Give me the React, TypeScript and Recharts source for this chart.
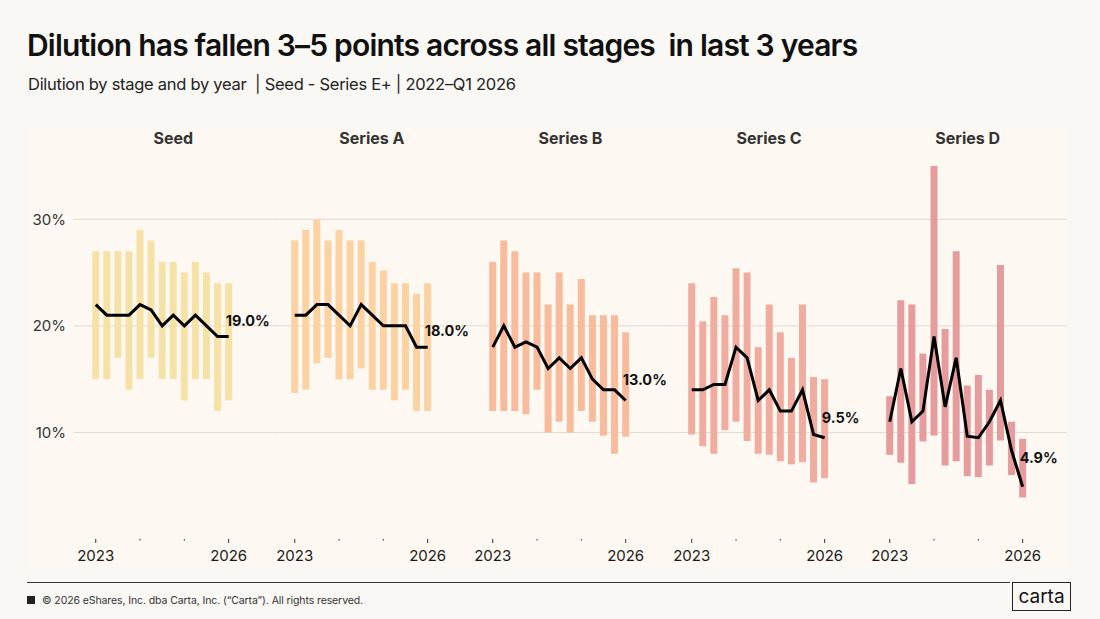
import { ComposedChart, Bar, Line, XAxis, YAxis, CartesianGrid, LabelList } from 'recharts';

const quarters = [
  '2023 Q1', '2023 Q2', '2023 Q3', '2023 Q4',
  '2024 Q1', '2024 Q2', '2024 Q3', '2024 Q4',
  '2025 Q1', '2025 Q2', '2025 Q3', '2025 Q4',
  '2026 Q1',
];
const yearLabels: Record<string, string> = { '2023 Q1': '2023', '2026 Q1': '2026' };
const yTicks = [10, 20, 30];

const stages = ['Seed', 'Series A', 'Series B', 'Series C', 'Series D'];

// dilution ranges (low / high) and medians per quarter, in %
const seedHigh = [27, 27, 27, 27, 29, 28, 26, 26, 25, 26, 25, 24, 24];
const seedLow = [15, 15, 17, 14, 15, 17, 15, 15, 13, 15, 15, 12, 13];
const seedMedian = [22, 21, 21, 21, 22, 21.5, 20, 21, 20, 21, 20, 19, 19];

const seriesAHigh = [28, 29, 30, 28, 29, 28, 28, 26, 25.2, 24, 24, 23, 24];
const seriesALow = [13.7, 14, 16.5, 17, 15, 15, 16, 14, 14, 13, 14, 12, 12];
const seriesAMedian = [21, 21, 22, 22, 21, 20, 22, 21, 20, 20, 20, 18, 18];

const seriesBHigh = [26, 28, 27, 25, 25, 22, 25, 22, 24.4, 21, 21, 21, 19.4];
const seriesBLow = [12, 12, 12, 11.7, 14, 10, 11, 10, 12, 11, 9.7, 8, 9.6];
const seriesBMedian = [18, 20, 18, 18.5, 18, 16, 17, 16, 17, 15, 14, 14, 13];

const seriesCHigh = [24, 20.4, 22.7, 21, 25.4, 25, 18, 22, 19.4, 17, 22, 15.2, 15];
const seriesCLow = [9.8, 8.7, 8, 10.2, 11, 9.2, 8, 7.9, 7.3, 7, 7.2, 5.3, 5.7];
const seriesCMedian = [14, 14, 14.5, 14.5, 18, 17, 13, 14, 12, 12, 14, 9.8, 9.5];

const seriesDHigh = [13.4, 22.4, 22, 17.4, 35, 19.7, 27, 14.4, 15.4, 14, 25.7, 11, 9.4];
const seriesDLow = [7.9, 7.15, 5.15, 9.15, 9.7, 6.9, 7.3, 5.9, 5.8, 6.9, 9.25, 6, 3.9];
const seriesDMedian = [11, 16, 11, 12, 19, 12.4, 17, 9.65, 9.5, 11, 13, 8.3, 4.9];

const panels = [
  { name: stages[0], high: seedHigh, low: seedLow, median: seedMedian, color: '#f6e2a7', lift: 16 },
  { name: stages[1], high: seriesAHigh, low: seriesALow, median: seriesAMedian, color: '#fcd2a2', lift: 17 },
  { name: stages[2], high: seriesBHigh, low: seriesBLow, median: seriesBMedian, color: '#f8bb9b', lift: 21 },
  { name: stages[3], high: seriesCHigh, low: seriesCLow, median: seriesCMedian, color: '#f0ac9f', lift: 20 },
  { name: stages[4], high: seriesDHigh, low: seriesDLow, median: seriesDMedian, color: '#e69c9d', lift: 29 },
];

const FONT = 'Inter, "Noto Sans", sans-serif';
const PLOT_LEFT = 74;
const PANEL_W = 198.6;
const CHART_TOP = 156;
const CHART_H = 420;
const Y_DOMAIN: [number, number] = [0, 35];

function QuarterTick(props: any) {
  const { x, y, payload } = props;
  const label = yearLabels[payload.value];
  const isYear = payload.value.endsWith('Q1');
  if (!isYear) return null;
  return (
    <g>
      <line x1={x} x2={x} y1={y} y2={y + (label ? 4 : 1.5)} stroke="#333" strokeWidth={1} />
      {label && (
        <text x={x} y={y + 17} textAnchor="middle" dominantBaseline="central" fontSize={15} fill="#1a1a1a" fontFamily={FONT}>
          {label}
        </text>
      )}
    </g>
  );
}

function Panel({ panel, index }: { panel: typeof panels[number]; index: number }) {
  const data = quarters.map((q, i) => ({
    quarter: q,
    range: [panel.low[i], panel.high[i]],
    median: panel.median[i],
  }));
  const last = data.length - 1;
  const first = index === 0;

  const renderLabel = (p: any) => {
    if (p.index !== last) return null;
    return (
      <text x={p.x - 3} y={p.y - panel.lift} dominantBaseline="central" fontSize={14.5} fontWeight={700} fill="#111" fontFamily={FONT}>
        {Number(p.value).toFixed(1)}%
      </text>
    );
  };

  return (
    <div style={{ position: 'absolute', left: first ? 0 : PLOT_LEFT + index * PANEL_W, top: CHART_TOP }}>
      <ComposedChart
        width={first ? PLOT_LEFT + PANEL_W : PANEL_W}
        height={CHART_H}
        data={data}
        margin={{ top: 10, right: 0, left: 0, bottom: 7 }}
      >
        <CartesianGrid vertical={false} stroke="#dedad3" horizontalValues={yTicks} />
        <XAxis
          dataKey="quarter"
          interval={0}
          axisLine={false}
          tickLine={false}
          tickSize={0}
          tickMargin={0}
          tick={<QuarterTick />}
          height={30}
          padding={{ left: 16.2, right: 38.4 }}
        />
        <YAxis
          hide={!first}
          domain={Y_DOMAIN}
          type="number"
          ticks={yTicks}
          width={first ? PLOT_LEFT : 0}
          axisLine={false}
          tickLine={false}
          tickSize={0}
          tickMargin={8}
          tickFormatter={(v) => `${v}%`}
          tick={{ fontSize: 15, fill: '#333', fontFamily: FONT }}
        />
        <Bar dataKey="range" fill={panel.color} barSize={7} isAnimationActive={false} />
        <Line dataKey="median" type="linear" stroke="#000" strokeWidth={3} dot={false} isAnimationActive={false}>
          <LabelList dataKey="median" content={renderLabel} />
        </Line>
      </ComposedChart>
    </div>
  );
}

export default function App() {
  return (
    <div style={{ position: 'absolute', left: 0, top: 0, width: 1100, height: 619, backgroundColor: '#faf8f5', fontFamily: FONT, overflow: 'hidden' }}>
      <div style={{ position: 'absolute', left: 27, top: 27, fontSize: 30, fontWeight: 600, color: '#111', letterSpacing: '-0.8px', whiteSpace: 'pre' }}>
        Dilution has fallen 3–5 points across all stages  in last 3 years
      </div>
      <div style={{ position: 'absolute', left: 28, top: 74, fontSize: 16.5, color: '#222', letterSpacing: '-0.28px', whiteSpace: 'pre' }}>
        Dilution by stage and by year  | Seed - Series E+ | 2022–Q1 2026
      </div>

      {/* plot panel background */}
      <div style={{ position: 'absolute', left: 28, top: 128, width: 1039, height: 438, backgroundColor: '#fdf9f2' }} />

      {panels.map((p, i) => (
        <div key={p.name} style={{ position: 'absolute', left: PLOT_LEFT + i * PANEL_W, top: 128, width: PANEL_W, textAlign: 'center', fontSize: 16, fontWeight: 700, color: '#333' }}>
          {p.name}
        </div>
      ))}

      {panels.map((p, i) => (
        <Panel key={p.name} panel={p} index={i} />
      ))}

      {/* footer */}
      <div style={{ position: 'absolute', left: 27, top: 582, width: 983, height: 1, backgroundColor: '#333' }} />
      <div style={{ position: 'absolute', left: 27, top: 596, width: 8, height: 8, backgroundColor: '#222' }} />
      <div style={{ position: 'absolute', left: 42, top: 593.5, fontSize: 10.5, color: '#333', letterSpacing: '-0.1px' }}>
        © 2026 eShares, Inc. dba Carta, Inc. (“Carta”). All rights reserved.
      </div>
      <div style={{ position: 'absolute', left: 1012, top: 582, width: 57, height: 27, border: '1.5px solid #222', display: 'flex', alignItems: 'center', justifyContent: 'center', fontSize: 19, color: '#111', boxSizing: 'content-box' }}>
        carta
      </div>
    </div>
  );
}
